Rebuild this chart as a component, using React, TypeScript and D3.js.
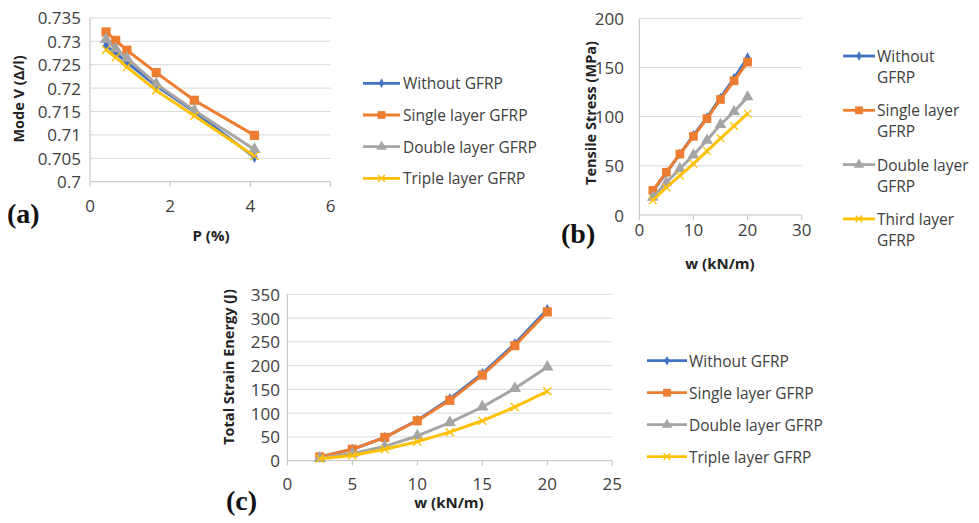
import React from "react";
import * as d3 from "d3";

// ---- Data -------------------------------------------------------------
const seriesNames = ["Without GFRP", "Single layer GFRP", "Double layer GFRP", "Triple layer GFRP"];
const seriesNamesB = ["Without\nGFRP", "Single layer\nGFRP", "Double layer\nGFRP", "Third layer\nGFRP"];

// (a) Mode V vs P (%)
const pValues = [0.4, 0.64, 0.92, 1.65, 2.6, 4.1];
const modeWithout = [0.7291, 0.7275, 0.7255, 0.7205, 0.715, 0.7052];
const modeSingle = [0.732, 0.7302, 0.7281, 0.7233, 0.7174, 0.7099];
const modeDouble = [0.7304, 0.7284, 0.7264, 0.7209, 0.7152, 0.7069];
const modeTriple = [0.7282, 0.7266, 0.7245, 0.7195, 0.7141, 0.7055];
const modeTicks = [0.7, 0.705, 0.71, 0.715, 0.72, 0.725, 0.73, 0.735];
const pTicks = [0, 2, 4, 6];

// (b) Tensile stress vs w
const wValues = [2.5, 5, 7.5, 10, 12.5, 15, 17.5, 20];
const stressWithout = [24, 43, 62, 81, 99, 119, 139, 160];
const stressSingle = [25, 43.5, 62, 80, 98, 117.5, 136.5, 155.5];
const stressDouble = [18, 33, 47, 61, 76, 92, 105, 120];
const stressTriple = [15, 28, 40, 52, 65, 78, 90.5, 103];
const stressTicks = [0, 50, 100, 150, 200];
const wTicksB = [0, 10, 20, 30];

// (c) Total strain energy vs w
const energyWithout = [8, 24, 49, 85, 130, 183, 246, 318];
const energySingle = [8, 24, 49, 84, 127, 180, 242, 313];
const energyDouble = [5, 15, 30, 52, 80, 113, 152, 197];
const energyTriple = [4, 11, 24, 40, 60, 84, 113, 146];
const energyTicks = [0, 50, 100, 150, 200, 250, 300, 350];
const wTicksC = [0, 5, 10, 15, 20, 25];

// ---- Styling ----------------------------------------------------------
const COLORS = ["#4472C4", "#ED7D31", "#A5A5A5", "#FFC000"];
const MARKERS = ["diamond", "square", "triangle", "x"];
const SANS = "'Open Sans', 'Liberation Sans', sans-serif";
const SERIF = "'Liberation Serif', 'DejaVu Serif', serif";
const GRID = "#d9d9d9";
const AXIS = "#bfbfbf";
const TICK_FONT = 17;
const LEGEND_FONT = 15.5;

type Series = { name: string; values: number[] };

type PanelProps = {
  xs: number[];
  series: Series[];
  xDomain: [number, number];
  yDomain: [number, number];
  xRange: [number, number];
  yRange: [number, number];
  xTicks: number[];
  yTicks: number[];
  yFormat: (v: number) => string;
  yLabelX: number;
  xLabelY: number;
  yTitle: string;
  yTitlePos: [number, number];
  xTitle: string;
  xTitlePos: [number, number];
  tag: string;
  tagPos: [number, number];
  legend: { x0: number; x1: number; textX: number; y0: number; dy: number; lineDy: number };
  markerScale: number;
};

function Marker({ kind, color, x, y, s }: { kind: string; color: string; x: number; y: number; s: number }) {
  if (kind === "x") {
    const r = 4 * s;
    return (
      <path
        d={`M${x - r},${y - r}L${x + r},${y + r}M${x - r},${y + r}L${x + r},${y - r}`}
        stroke={color}
        strokeWidth={1.3}
        fill="none"
      />
    );
  }
  const type = kind === "diamond" ? d3.symbolDiamond : kind === "square" ? d3.symbolSquare : d3.symbolTriangle;
  const size = kind === "diamond" ? 36 * s * s : kind === "square" ? 84 * s * s : 66 * s * s;
  const p = d3.symbol().type(type).size(size)();
  return <path d={p || ""} transform={`translate(${x},${y})`} fill={color} />;
}

function Panel(props: PanelProps) {
  const x = d3.scaleLinear().domain(props.xDomain).range(props.xRange);
  const y = d3.scaleLinear().domain(props.yDomain).range(props.yRange);
  const line = d3
    .line<[number, number]>()
    .x((d) => x(d[0]))
    .y((d) => y(d[1]));
  const [xl, xr] = props.xRange;
  const yb = props.yRange[0];
  const lg = props.legend;
  return (
    <g>
      {/* horizontal gridlines */}
      {props.yTicks.map((t, i) =>
        i === 0 ? null : <line key={t} x1={xl} x2={xr} y1={y(t)} y2={y(t)} stroke={GRID} strokeWidth={1} />
      )}
      {/* axes */}
      <line x1={xl} x2={xl} y1={yb} y2={y(props.yTicks[props.yTicks.length - 1])} stroke={AXIS} strokeWidth={1} />
      <line x1={xl} x2={xr} y1={yb} y2={yb} stroke={AXIS} strokeWidth={1} />
      {props.xTicks.map((t) => (
        <line key={t} x1={x(t)} x2={x(t)} y1={yb} y2={yb + 5} stroke={AXIS} strokeWidth={1} />
      ))}
      {/* tick labels */}
      {props.yTicks.map((t) => (
        <text
          key={t}
          x={props.yLabelX}
          y={y(t)}
          textAnchor="end"
          dominantBaseline="central"
          fontFamily={SANS}
          fontSize={TICK_FONT}
          fill="#404040"
        >
          {props.yFormat(t)}
        </text>
      ))}
      {props.xTicks.map((t) => (
        <text
          key={t}
          x={x(t)}
          y={props.xLabelY}
          textAnchor="middle"
          dominantBaseline="central"
          fontFamily={SANS}
          fontSize={TICK_FONT}
          fill="#404040"
        >
          {t}
        </text>
      ))}
      {/* series */}
      {props.series.map((s, si) => {
        const pts = props.xs.map((xv, i) => [xv, s.values[i]] as [number, number]);
        return (
          <g key={s.name}>
            <path d={line(pts) || ""} fill="none" stroke={COLORS[si]} strokeWidth={3} strokeLinejoin="round" />
            {pts.map((p, i) => (
              <Marker key={i} kind={MARKERS[si]} color={COLORS[si]} x={x(p[0])} y={y(p[1])} s={props.markerScale} />
            ))}
          </g>
        );
      })}
      {/* axis titles */}
      <text
        transform={`translate(${props.yTitlePos[0]},${props.yTitlePos[1]}) rotate(-90)`}
        textAnchor="middle"
        dominantBaseline="central"
        fontFamily={SANS}
        fontWeight="bold"
        fontSize={14.5}
        fill="#222"
      >
        {props.yTitle}
      </text>
      <text
        x={props.xTitlePos[0]}
        y={props.xTitlePos[1]}
        textAnchor="middle"
        dominantBaseline="central"
        fontFamily={SANS}
        fontWeight="bold"
        fontSize={15}
        fill="#222"
      >
        {props.xTitle}
      </text>
      <text
        x={props.tagPos[0]}
        y={props.tagPos[1]}
        dominantBaseline="central"
        fontFamily={SERIF}
        fontWeight="bold"
        fontSize={28}
        fill="#111"
      >
        {props.tag}
      </text>
      {/* legend */}
      {props.series.map((s, si) => {
        const ly = lg.y0 + si * lg.dy;
        const lines = s.name.split("\n");
        return (
          <g key={"lg" + si}>
            <line x1={lg.x0} x2={lg.x1} y1={ly} y2={ly} stroke={COLORS[si]} strokeWidth={2.8} />
            <Marker kind={MARKERS[si]} color={COLORS[si]} x={(lg.x0 + lg.x1) / 2} y={ly} s={0.85} />
            {lines.map((t, li) => (
              <text
                key={li}
                x={lg.textX}
                y={ly + li * lg.lineDy}
                dominantBaseline="central"
                fontFamily={SANS}
                fontSize={LEGEND_FONT}
                fill="#404040"
              >
                {t}
              </text>
            ))}
          </g>
        );
      })}
    </g>
  );
}

const fmtMode = (v: number) => String(+v.toFixed(3));
const fmtInt = (v: number) => String(v);

export default function App() {
  const mk = (names: string[], vals: number[][]): Series[] => names.map((n, i) => ({ name: n, values: vals[i] }));
  return (
    <svg width={979} height={523} style={{ display: "block", position: "absolute", left: 0, top: 0, background: "#fff" }}>
      <rect width={979} height={523} fill="#fff" />
      <Panel
        xs={pValues}
        series={mk(seriesNames, [modeWithout, modeSingle, modeDouble, modeTriple])}
        xDomain={[0, 6]}
        yDomain={[0.7, 0.735]}
        xRange={[90, 330.7]}
        yRange={[181.7, 17.9]}
        xTicks={pTicks}
        yTicks={modeTicks}
        yFormat={fmtMode}
        yLabelX={81}
        xLabelY={205}
        yTitle="Mode V (Δ/l)"
        yTitlePos={[18, 99]}
        xTitle="P (%)"
        xTitlePos={[211, 235]}
        tag="(a)"
        tagPos={[7, 213]}
        legend={{ x0: 363, x1: 400, textX: 403, y0: 83.3, dy: 31.7, lineDy: 0 }}
        markerScale={1}
      />
      <Panel
        xs={wValues}
        series={mk(seriesNamesB, [stressWithout, stressSingle, stressDouble, stressTriple])}
        xDomain={[0, 30]}
        yDomain={[0, 200]}
        xRange={[639.3, 801.7]}
        yRange={[215, 18.3]}
        xTicks={wTicksB}
        yTicks={stressTicks}
        yFormat={fmtInt}
        yLabelX={624}
        xLabelY={229.5}
        yTitle="Tensile Stress (MPa)"
        yTitlePos={[590, 113]}
        xTitle="w (kN/m)"
        xTitlePos={[720, 263]}
        tag="(b)"
        tagPos={[561, 233]}
        legend={{ x0: 843, x1: 875, textX: 877, y0: 56, dy: 54.3, lineDy: 21 }}
        markerScale={0.95}
      />
      <Panel
        xs={wValues}
        series={mk(seriesNames, [energyWithout, energySingle, energyDouble, energyTriple])}
        xDomain={[0, 25]}
        yDomain={[0, 350]}
        xRange={[287.3, 612.3]}
        yRange={[460.7, 294.3]}
        xTicks={wTicksC}
        yTicks={energyTicks}
        yFormat={fmtInt}
        yLabelX={280}
        xLabelY={483.3}
        yTitle="Total Strain Energy (J)"
        yTitlePos={[228, 367]}
        xTitle="w (kN/m)"
        xTitlePos={[449, 502]}
        tag="(c)"
        tagPos={[226, 500]}
        legend={{ x0: 647, x1: 687, textX: 689, y0: 360.7, dy: 32, lineDy: 0 }}
        markerScale={1}
      />
    </svg>
  );
}
